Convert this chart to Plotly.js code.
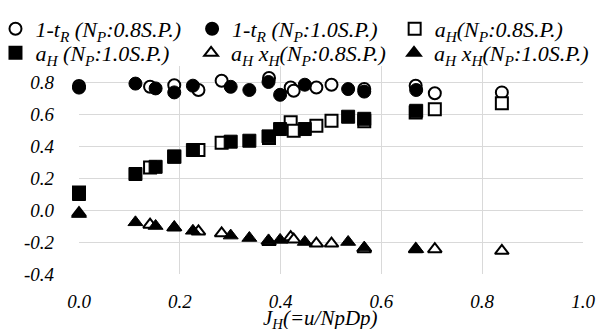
<!DOCTYPE html>
<html>
<head>
<meta charset="utf-8">
<script src="https://cdn.plot.ly/plotly-3.0.1.min.js"></script>
<style>html,body{margin:0;padding:0;background:#fff;}#chart{width:596px;height:329px;}</style>
</head>
<body>
<div id="chart"></div>
<script>
// Open-marker series (N_P : 0.8 S.P.)
var xOpen = [0, 0.141, 0.189, 0.237, 0.283, 0.377, 0.420, 0.426, 0.471, 0.501, 0.566, 0.668, 0.706, 0.839];
var tR08  = [0.775, 0.77, 0.78, 0.75, 0.808, 0.825, 0.766, 0.745, 0.766, 0.783, 0.756, 0.777, 0.73, 0.735];
var aH08  = [0.11, 0.266, 0.335, 0.375, 0.42, 0.45, 0.548, 0.496, 0.527, 0.558, 0.555, 0.61, 0.63, 0.667];
var aHxH08 = [-0.02, -0.092, -0.11, -0.134, -0.146, -0.20, -0.17, -0.185, -0.21, -0.21, -0.245, -0.245, -0.245, -0.255];
// Filled-marker series (N_P : 1.0 S.P.)
var xFill = [0, 0.112, 0.152, 0.189, 0.226, 0.301, 0.338, 0.376, 0.399, 0.448, 0.534, 0.566, 0.669];
var tR10  = [0.765, 0.79, 0.76, 0.735, 0.777, 0.77, 0.75, 0.80, 0.72, 0.783, 0.756, 0.74, 0.75];
var aH10  = [0.10, 0.225, 0.27, 0.333, 0.375, 0.427, 0.433, 0.46, 0.506, 0.506, 0.583, 0.57, 0.62];
var aHxH10 = [-0.025, -0.077, -0.10, -0.108, -0.13, -0.16, -0.175, -0.19, -0.187, -0.20, -0.20, -0.235, -0.245];

var seriesNames = [
  '1-t<sub>R</sub> (N<sub>P</sub>:0.8S.P.)',
  '1-t<sub>R</sub> (N<sub>P</sub>:1.0S.P.)',
  'a<sub>H</sub>(N<sub>P</sub>:0.8S.P.)',
  'a<sub>H</sub> (N<sub>P</sub>:1.0S.P.)',
  'a<sub>H</sub> x<sub>H</sub>(N<sub>P</sub>:0.8S.P.)',
  'a<sub>H</sub> x<sub>H</sub>(N<sub>P</sub>:1.0S.P.)'
];
var xTickVals = [0, 0.2, 0.4, 0.6, 0.8, 1.0];
var xTickText = ['0.0', '0.2', '0.4', '0.6', '0.8', '1.0'];
var yTickVals = [-0.4, -0.2, 0, 0.2, 0.4, 0.6, 0.8];
var yTickText = ['-0.4', '-0.2', '0.0', '0.2', '0.4', '0.6', '0.8'];
var xTitle = 'J<sub>H</sub>(=u/NpDp)';

function serif(size) {
  return {family: 'Liberation Serif, Times New Roman, serif', size: size, color: '#000000', style: 'italic'};
}
function openTrace(x, y, name, symbol, size, legendId) {
  return {x: x, y: y, name: name, type: 'scatter', mode: 'markers', cliponaxis: false, legend: legendId,
    marker: {symbol: symbol, size: size, color: '#ffffff', line: {color: '#000000', width: 2}}};
}
function fillTrace(x, y, name, symbol, size, legendId) {
  return {x: x, y: y, name: name, type: 'scatter', mode: 'markers', cliponaxis: false, legend: legendId,
    marker: {symbol: symbol, size: size, color: '#000000', line: {color: '#000000', width: 1}}};
}

var data = [
  openTrace(xOpen, tR08, seriesNames[0], 'circle', 12, 'legend'),
  fillTrace(xFill, tR10, seriesNames[1], 'circle', 13, 'legend2'),
  openTrace(xOpen, aH08, seriesNames[2], 'square', 12, 'legend3'),
  fillTrace(xFill, aH10, seriesNames[3], 'square', 13, 'legend4'),
  openTrace(xOpen, aHxH08, seriesNames[4], 'triangle-up', 12, 'legend5'),
  fillTrace(xFill, aHxH10, seriesNames[5], 'triangle-up', 13, 'legend6')
];

function legendAt(x, y) {
  return {
    orientation: 'v', x: x, xanchor: 'left', y: y, yanchor: 'top',
    font: serif(22), bgcolor: 'rgba(0,0,0,0)', borderwidth: 0,
    itemclick: false, itemsizing: 'constant', traceorder: 'normal', tracegroupgap: 0
  };
}

var layout = {
  width: 596, height: 329,
  font: serif(19),
  margin: {l: 78.7, r: 12.5, t: 66, b: 54.7, pad: 0, autoexpand: false},
  paper_bgcolor: '#ffffff', plot_bgcolor: '#ffffff',
  showlegend: true,
  legend:  legendAt(-0.1657, 1.279),
  legend2: legendAt(0.2244, 1.279),
  legend3: legendAt(0.6263, 1.279),
  legend4: legendAt(-0.1657, 1.1634),
  legend5: legendAt(0.2224, 1.1634),
  legend6: legendAt(0.6250, 1.1634),
  xaxis: {
    range: [0, 1.0], tickvals: xTickVals, ticktext: xTickText,
    showgrid: true, gridcolor: '#d9d9d9', gridwidth: 1, zeroline: false,
    showline: false, ticks: '', tickfont: serif(19), ticklabelstandoff: 14
  },
  yaxis: {
    range: [-0.4, 0.9], tickvals: yTickVals, ticktext: yTickText,
    showgrid: true, gridcolor: '#d9d9d9', gridwidth: 1, zeroline: false,
    showline: false, ticks: '', tickfont: serif(19), ticklabelstandoff: 24
  },
  annotations: [{
    text: xTitle, xref: 'paper', yref: 'paper', x: 0.48, y: -0.218,
    xanchor: 'center', yanchor: 'middle', showarrow: false,
    font: serif(21)
  }]
};

Plotly.newPlot('chart', data, layout, {staticPlot: true, displayModeBar: false});
</script>
</body>
</html>
